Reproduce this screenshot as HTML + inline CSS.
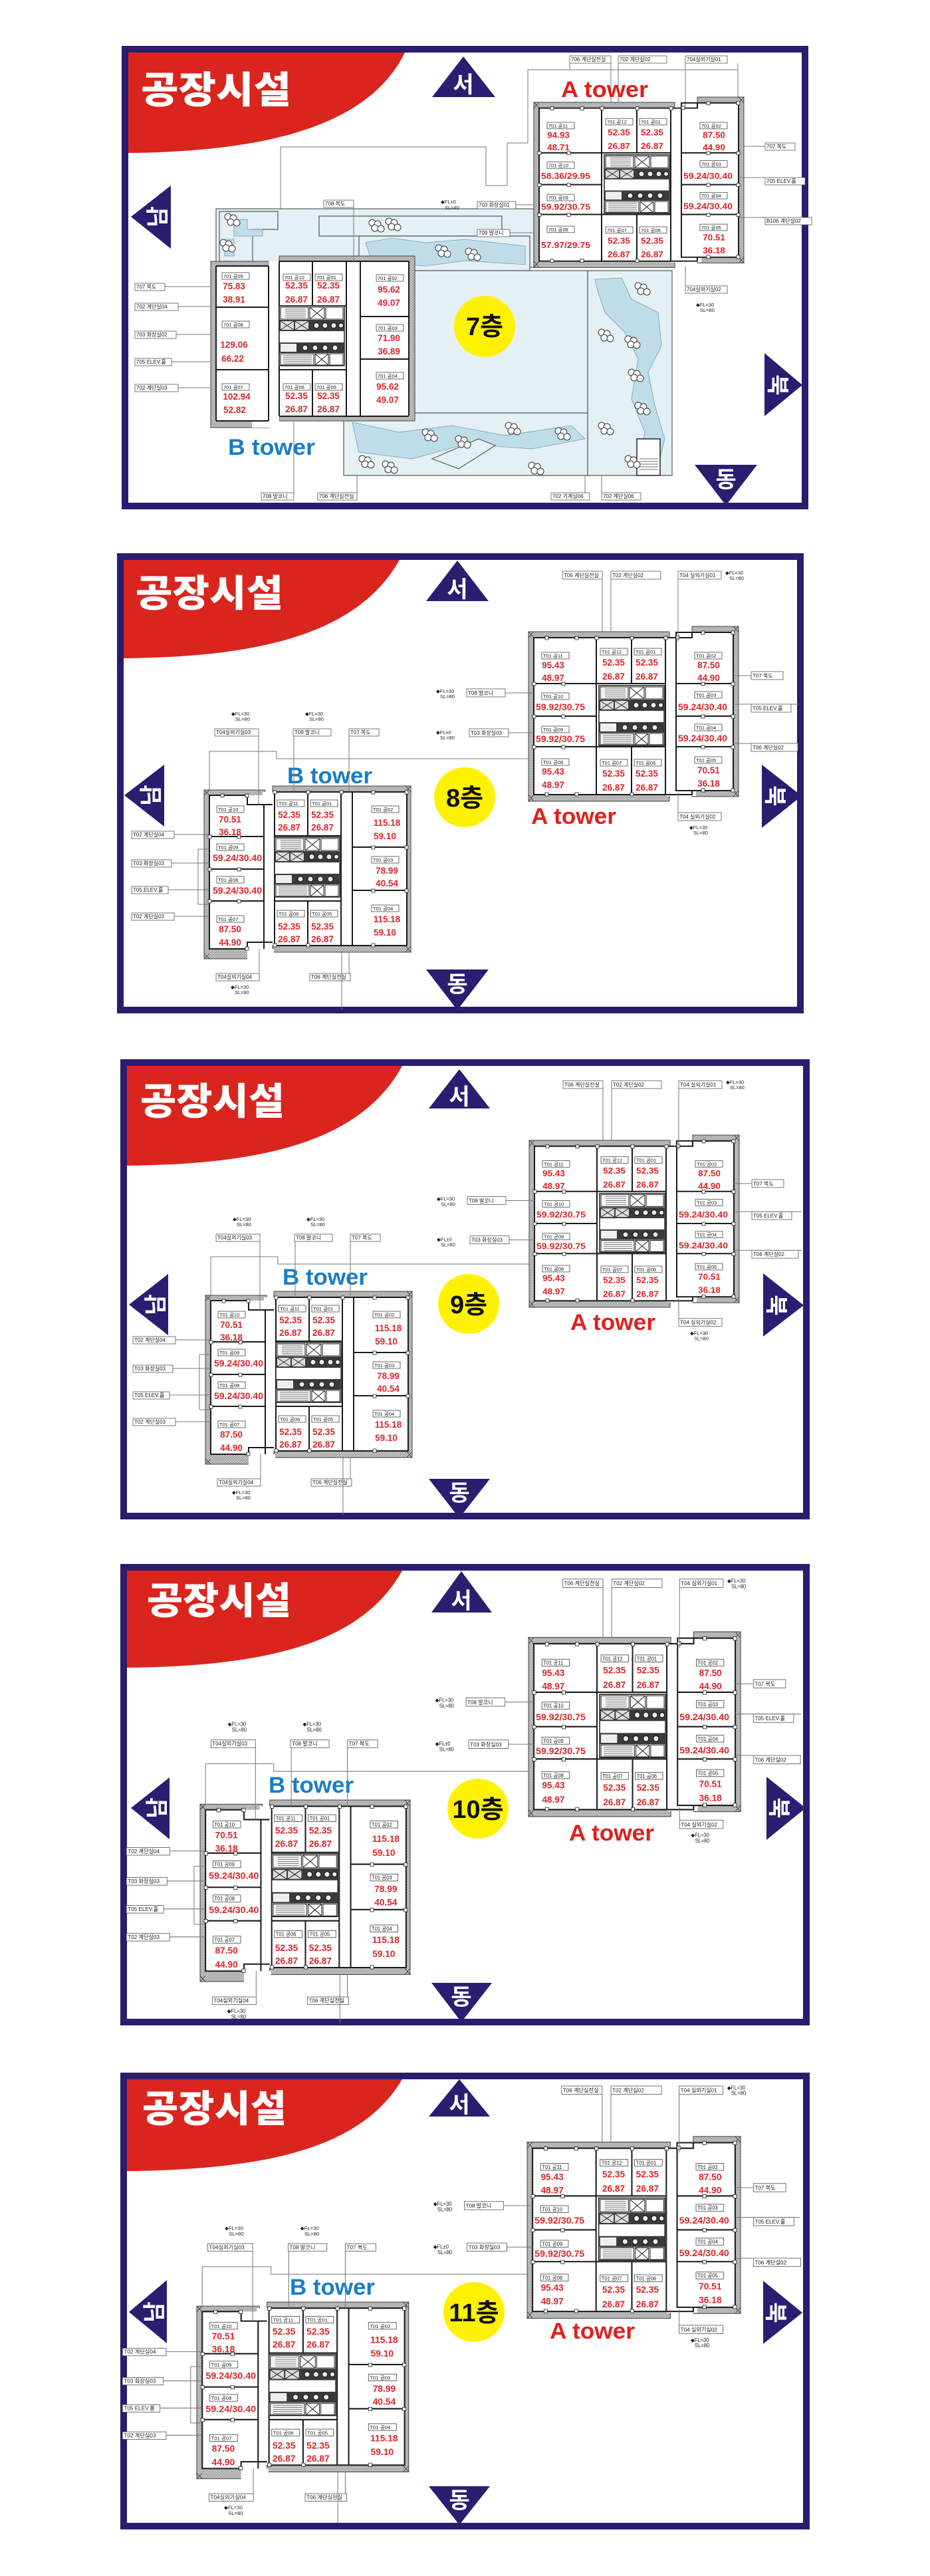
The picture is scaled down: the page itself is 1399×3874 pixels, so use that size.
<!DOCTYPE html>
<html><head><meta charset="utf-8">
<style>
html,body{margin:0;padding:0;background:#fff;}
svg{display:block}
.ff{font-family:"Liberation Sans","Noto Sans CJK KR",sans-serif}
.cb{fill:#fff;stroke:#555;stroke-width:.8}
.ct{font-family:"Liberation Sans","Noto Sans CJK KR",sans-serif;font-size:8px;fill:#222}
.fl{font-family:"Liberation Sans",sans-serif;font-size:7.5px;fill:#222}
.rl{fill:#fff;stroke:#444;stroke-width:.8}
.rt{font-family:"Liberation Sans","Noto Sans CJK KR",sans-serif;font-size:7.5px;fill:#222}
.n{font-family:"Liberation Sans",sans-serif;font-weight:bold;font-size:13.5px;fill:#d8262b;text-anchor:middle}
.w{stroke:#1a1a1a;stroke-width:2;fill:none}
.l{stroke:#777;stroke-width:1;fill:none}
.tri{fill:#2b1d70}
.dir{font-family:"Liberation Sans","Noto Sans CJK KR",sans-serif;font-weight:bold;font-size:34px;fill:#fff;text-anchor:middle}
.tt{font-family:"Noto Sans CJK KR","Liberation Sans",sans-serif;font-weight:900;font-size:56px;fill:#fff}
.fn{font-family:"Liberation Sans","Noto Sans CJK KR",sans-serif;font-weight:bold;font-size:38px;fill:#111;text-anchor:middle}
.at{font-family:"Liberation Sans",sans-serif;font-weight:bold;font-size:34px;fill:#e0201c}
.bt{font-family:"Liberation Sans",sans-serif;font-weight:bold;font-size:34px;fill:#1b7cc4}
.cs{fill:#fff;stroke:#222;stroke-width:.8}
.g{fill:#e4f0f4;stroke:#555;stroke-width:1.2}
.gw{fill:#bfdde9;stroke:#6a9db0;stroke-width:.8}
.tiny{font-family:"Liberation Sans",sans-serif;font-size:5px;fill:#333}
</style></head>
<body>
<svg xmlns="http://www.w3.org/2000/svg" width="1399" height="3874" viewBox="0 0 1399 3874">
<defs>
<pattern id="h" width="4" height="4" patternUnits="userSpaceOnUse"><rect width="4" height="4" fill="#c4c4c4"/><path d="M0,4L4,0" stroke="#8a8a8a" stroke-width=".8"/></pattern>
<g id="tr"><circle cx="0" cy="0" r="5" fill="#fff" stroke="#333"/><circle cx="8" cy="2" r="5" fill="#fff" stroke="#333"/><circle cx="4" cy="8" r="5" fill="#fff" stroke="#333"/><circle cx="13" cy="9" r="5" fill="#fff" stroke="#333"/></g>
<g id="acore">
<rect x="106" y="89" width="98" height="90" fill="#fff" stroke="#222" stroke-width="1.5"/>
<rect x="108" y="91" width="42" height="18" fill="#f3f3f3" stroke="#222"/>
<path d="M115,94H146M115,97H146M115,100H146M115,103H146M115,106H146" stroke="#555" stroke-width=".7"/>
<rect x="152" y="91" width="22" height="18" fill="#fff" stroke="#222"/><path d="M152,91L174,109M174,91L152,109" stroke="#222"/>
<rect x="176" y="91" width="26" height="18" fill="#fff" stroke="#222"/>
<rect x="106" y="110" width="98" height="17" fill="#3a3a3a"/>
<rect x="108" y="112" width="20" height="13" fill="#ddd"/><path d="M108,112L128,125M128,112L108,125" stroke="#222"/>
<rect x="130" y="112" width="20" height="13" fill="#ddd"/><path d="M130,112L150,125M150,112L130,125" stroke="#222"/>
<circle cx="162" cy="118.5" r="4" fill="#eee" stroke="#111"/><circle cx="175" cy="118.5" r="4" fill="#eee" stroke="#111"/><circle cx="188" cy="118.5" r="4" fill="#eee" stroke="#111"/><circle cx="199" cy="118.5" r="3.5" fill="#eee" stroke="#111"/>
<rect x="106" y="144" width="98" height="16" fill="#3a3a3a"/>
<rect x="108" y="146" width="24" height="12" fill="#eee"/>
<circle cx="145" cy="152" r="4" fill="#eee" stroke="#111"/><circle cx="160" cy="152" r="4" fill="#eee" stroke="#111"/><circle cx="175" cy="152" r="4" fill="#eee" stroke="#111"/><circle cx="190" cy="152" r="4" fill="#eee" stroke="#111"/>
<rect x="108" y="161" width="50" height="17" fill="#f3f3f3" stroke="#222"/>
<path d="M112,164H155M112,167H155M112,170H155M112,173H155M112,176H155" stroke="#555" stroke-width=".7"/>
<rect x="160" y="161" width="20" height="17" fill="#fff" stroke="#222"/><path d="M160,161L180,178M180,161L160,178" stroke="#222"/>
<rect x="182" y="161" width="20" height="17" fill="#fff" stroke="#222"/>
</g>
<g id="awall">
<rect x="0" y="8" width="212" height="255" fill="url(#h)" stroke="#444"/>
<rect x="246" y="0" width="70" height="256" fill="url(#h)" stroke="#444"/>
<rect x="8" y="17" width="204" height="236" fill="#fff"/>
<rect x="206" y="17" width="46" height="238" fill="#fff"/>
<rect x="246" y="9" width="62" height="238" fill="#fff"/>
<path class="w" d="M8,17H206V253H8ZM102,17V253M8,86H102M8,135H102M8,181H102M102,86H206M102,181H206M155,17V86M155,181V253M222,9H308V247H222ZM222,86H308M222,135H308M222,181H308M206,17H246V9M206,253H246V247"/>
<path d="M0,8L8,17M8,8L0,17M0,253L8,263M8,253L0,263M308,0L316,9M316,0L308,9M308,247L316,256M316,247L308,256" stroke="#333" stroke-width=".8"/>
<g class="cs"><rect x="25" y="15" width="5" height="5"/><rect x="70" y="15" width="5" height="5"/><rect x="100" y="15" width="5" height="5"/><rect x="153" y="15" width="5" height="5"/><rect x="204" y="15" width="5" height="5"/><rect x="6" y="84" width="5" height="5"/><rect x="50" y="84" width="5" height="5"/><rect x="6" y="133" width="5" height="5"/><rect x="50" y="133" width="5" height="5"/><rect x="6" y="179" width="5" height="5"/><rect x="50" y="179" width="5" height="5"/><rect x="25" y="250" width="5" height="5"/><rect x="70" y="250" width="5" height="5"/><rect x="153" y="250" width="5" height="5"/><rect x="260" y="7" width="5" height="5"/><rect x="305" y="7" width="5" height="5"/><rect x="260" y="84" width="5" height="5"/><rect x="305" y="84" width="5" height="5"/><rect x="260" y="133" width="5" height="5"/><rect x="305" y="133" width="5" height="5"/><rect x="260" y="179" width="5" height="5"/><rect x="305" y="179" width="5" height="5"/><rect x="260" y="244" width="5" height="5"/><rect x="305" y="244" width="5" height="5"/><rect x="222" y="14" width="5" height="5"/></g>
<use href="#acore"/>
</g>
<g id="bwall">
<rect x="0" y="6" width="92" height="254" fill="url(#h)" stroke="#444"/>
<rect x="103" y="0" width="208" height="250" fill="url(#h)" stroke="#444"/>
<rect x="8" y="14" width="90" height="231" fill="#fff"/>
<rect x="65" y="245" width="40" height="17" fill="#fff"/>
<rect x="88" y="9" width="20" height="231" fill="#fff"/>
<rect x="106" y="9" width="199" height="231" fill="#fff"/>
<path class="w" d="M8,14H65V28H103M8,14V245H65M90,28V245M8,76H90M8,125H90M8,173H90M65,245V235H103M106,9H305V240H106ZM156,9V75M156,173V240M106,75H206M106,173H206M206,9V240M223,9V240M223,92H305M223,157H305"/>
<path d="M0,6L8,14M8,6L0,14M0,252L8,260M8,252L0,260M303,0L311,9M311,0L303,9M303,241L311,250M311,241L303,250" stroke="#333" stroke-width=".8"/>
<g class="cs"><rect x="25" y="12" width="5" height="5"/><rect x="62" y="12" width="5" height="5"/><rect x="104" y="7" width="5" height="5"/><rect x="154" y="7" width="5" height="5"/><rect x="204" y="7" width="5" height="5"/><rect x="252" y="7" width="5" height="5"/><rect x="302" y="7" width="5" height="5"/><rect x="6" y="74" width="5" height="5"/><rect x="50" y="74" width="5" height="5"/><rect x="6" y="123" width="5" height="5"/><rect x="50" y="123" width="5" height="5"/><rect x="6" y="171" width="5" height="5"/><rect x="50" y="171" width="5" height="5"/><rect x="252" y="90" width="5" height="5"/><rect x="302" y="90" width="5" height="5"/><rect x="252" y="155" width="5" height="5"/><rect x="302" y="155" width="5" height="5"/><rect x="104" y="237" width="5" height="5"/><rect x="154" y="237" width="5" height="5"/><rect x="252" y="237" width="5" height="5"/><rect x="62" y="242" width="5" height="5"/></g>
<g transform="translate(0,-12)"><use href="#acore"/></g>
</g>
</defs>

<!-- ================= PANEL 1 (7F) ================= -->
<g transform="translate(183,69)">
<rect x="5" y="5" width="1023" height="687" fill="#fff" stroke="#2b1c6e" stroke-width="10"/>
<path d="M10,10H426C372,121 217,159 10,161Z" fill="#d9251d"/>
<text class="tt" x="29" y="86" textLength="226" lengthAdjust="spacingAndGlyphs">공장시설</text>
<polygon class="tri" points="514,16 562,77 467,77"/><text class="dir" x="514" y="70">서</text>
<polygon class="tri" points="14,257 74,210 74,305"/><text class="dir" transform="translate(54,257) rotate(-90)" y="12">남</text>
<polygon class="tri" points="1024,510 967,462 967,557"/><text class="dir" transform="translate(987,510) rotate(90)" y="12">북</text>
<polygon class="tri" points="862,630 956,630 909,691"/><text class="dir" x="909" y="664">동</text>
</g>
<!-- 7F site outlines -->
<path class="l" stroke="#555" stroke-width="1.3" d="M422,317V221H731V279H763V215H794V105H1110V151"/>
<path class="l" d="M857,95V105M919,95V160M930,95V160M1031,95V160"/>
<rect class="g" x="325" y="314" width="478" height="88" fill="#f6f6f2"/>
<polygon class="g" points="330,318 418,318 418,345 380,345 380,393 330,393"/>
<polygon class="gw" points="352,330 372,330 372,345 395,345 395,355 352,355"/>
<polygon class="gw" points="338,360 352,360 352,385 338,385"/>
<rect class="g" x="480" y="325" width="275" height="30" fill="#f6f6f2"/>
<polygon class="g" points="540,355 797,355 797,407 540,407"/>
<polygon class="gw" points="550,365 590,358 640,365 700,360 790,370 790,398 700,392 640,400 560,395"/>
<polygon class="g" points="884,407 1011,407 1011,715 884,715"/>
<polygon class="gw" points="895,420 935,418 950,450 990,470 995,520 975,560 985,610 1000,660 990,700 960,705 970,650 950,600 960,540 940,500 910,470 900,440"/>
<polygon class="g" points="517,621 884,621 884,715 517,715"/>
<polygon class="gw" points="530,635 600,650 680,640 760,655 860,640 880,660 800,675 700,668 620,690 540,680"/>
<polygon class="g" points="650,690 720,660 745,670 690,705" fill="#f0f0f0"/>
<rect class="g" x="624" y="407" width="260" height="214" fill="#fff"/>
<rect x="958" y="660" width="35" height="55" fill="#fff" stroke="#222" stroke-width="1.5"/>
<path d="M962,690H990M962,694H990M962,698H990M962,702H990M962,706H990" stroke="#444" stroke-width=".8"/>
<use href="#tr" x="560" y="335"/><use href="#tr" x="585" y="333"/><use href="#tr" x="660" y="373"/><use href="#tr" x="705" y="378"/><use href="#tr" x="343" y="326"/><use href="#tr" x="336" y="365"/><use href="#tr" x="960" y="430"/><use href="#tr" x="905" y="500"/><use href="#tr" x="945" y="510"/><use href="#tr" x="950" y="560"/><use href="#tr" x="960" y="610"/><use href="#tr" x="905" y="640"/><use href="#tr" x="945" y="690"/><use href="#tr" x="640" y="650"/><use href="#tr" x="690" y="660"/><use href="#tr" x="765" y="640"/><use href="#tr" x="840" y="648"/><use href="#tr" x="545" y="690"/><use href="#tr" x="580" y="698"/><use href="#tr" x="800" y="700"/>
<!-- 7F B tower -->
<rect x="317" y="393" width="87" height="250" fill="url(#h)" stroke="#444"/>
<rect x="420" y="385" width="204" height="248" fill="url(#h)" stroke="#444"/>
<rect x="325" y="400" width="79" height="233" fill="#fff"/>
<rect x="379" y="633" width="41" height="10" fill="#fff"/>
<rect x="404" y="393" width="16" height="240" fill="#fff"/>
<rect x="420" y="393" width="195" height="233" fill="#fff"/>
<path class="w" d="M325,400H404M325,462H404M325,556H404M325,633H404M325,400V633M404,400V633M420,393H615M420,393V626M420,460H521M420,556H521M470,393V460M470,556V626M521,393V626M542,393V625M542,476H615M542,540H615M615,393V625M420,626H615"/>
<g transform="translate(314,371)"><use href="#acore"/></g>
<rect class="rl" x="334" y="410" width="41" height="10"/><text class="rt" x="336" y="418">701 공09</text>
<text class="n" x="352" y="435">75.83</text><text class="n" x="352" y="455">38.91</text>
<rect class="rl" x="334" y="483" width="41" height="10"/><text class="rt" x="336" y="491">701 공08</text>
<text class="n" x="352" y="523">129.06</text><text class="n" x="350" y="544">66.22</text>
<rect class="rl" x="334" y="577" width="41" height="10"/><text class="rt" x="336" y="585">701 공07</text>
<text class="n" x="356" y="601">102.94</text><text class="n" x="353" y="621">52.82</text>
<rect class="rl" x="426" y="412" width="41" height="10"/><text class="rt" x="428" y="420">701 공10</text>
<text class="n" x="446" y="434">52.35</text><text class="n" x="446" y="455">26.87</text>
<rect class="rl" x="474" y="412" width="41" height="10"/><text class="rt" x="476" y="420">701 공01</text>
<text class="n" x="494" y="434">52.35</text><text class="n" x="494" y="455">26.87</text>
<rect class="rl" x="426" y="577" width="41" height="10"/><text class="rt" x="428" y="585">701 공06</text>
<text class="n" x="446" y="600">52.35</text><text class="n" x="446" y="620">26.87</text>
<rect class="rl" x="474" y="577" width="41" height="10"/><text class="rt" x="476" y="585">701 공05</text>
<text class="n" x="494" y="600">52.35</text><text class="n" x="494" y="620">26.87</text>
<rect class="rl" x="566" y="413" width="41" height="10"/><text class="rt" x="568" y="421">701 공02</text>
<text class="n" x="585" y="440">95.62</text><text class="n" x="585" y="460">49.07</text>
<rect class="rl" x="566" y="488" width="41" height="10"/><text class="rt" x="568" y="496">701 공03</text>
<text class="n" x="585" y="513">71.90</text><text class="n" x="585" y="533">36.89</text>
<rect class="rl" x="566" y="560" width="41" height="10"/><text class="rt" x="568" y="568">701 공04</text>
<text class="n" x="583" y="586">95.62</text><text class="n" x="583" y="606">49.07</text>
<!-- 7F A tower -->
<g transform="translate(803,146) scale(1,0.975)">
<use href="#awall"/>
<rect class="rl" x="20" y="39" width="41" height="10"/><text class="rt" x="22" y="47">701 공11</text>
<text class="n" x="37" y="63">94.93</text><text class="n" x="37" y="82">48.71</text>
<rect class="rl" x="20" y="100" width="41" height="10"/><text class="rt" x="22" y="108">701 공10</text>
<text class="n" x="48" y="126" textLength="74" lengthAdjust="spacingAndGlyphs">58.36/29.95</text>
<rect class="rl" x="20" y="150" width="41" height="10"/><text class="rt" x="22" y="158">701 공09</text>
<text class="n" x="48" y="174" textLength="74" lengthAdjust="spacingAndGlyphs">59.92/30.75</text>
<rect class="rl" x="20" y="199" width="41" height="10"/><text class="rt" x="22" y="207">701 공08</text>
<text class="n" x="48" y="233" textLength="74" lengthAdjust="spacingAndGlyphs">57.97/29.75</text>
<rect class="rl" x="108" y="33" width="41" height="10"/><text class="rt" x="110" y="41">701 공12</text>
<text class="n" x="128" y="59">52.35</text><text class="n" x="128" y="80">26.87</text>
<rect class="rl" x="159" y="33" width="41" height="10"/><text class="rt" x="161" y="41">701 공01</text>
<text class="n" x="178" y="59">52.35</text><text class="n" x="178" y="80">26.87</text>
<rect class="rl" x="108" y="200" width="41" height="10"/><text class="rt" x="110" y="208">701 공07</text>
<text class="n" x="128" y="226">52.35</text><text class="n" x="128" y="247">26.87</text>
<rect class="rl" x="159" y="200" width="41" height="10"/><text class="rt" x="161" y="208">701 공06</text>
<text class="n" x="178" y="226">52.35</text><text class="n" x="178" y="247">26.87</text>
<rect class="rl" x="250" y="39" width="41" height="10"/><text class="rt" x="252" y="47">701 공02</text>
<text class="n" x="271" y="63">87.50</text><text class="n" x="271" y="82">44.90</text>
<rect class="rl" x="250" y="98" width="41" height="10"/><text class="rt" x="252" y="106">701 공03</text>
<text class="n" x="262" y="126" textLength="74" lengthAdjust="spacingAndGlyphs">59.24/30.40</text>
<rect class="rl" x="250" y="147" width="41" height="10"/><text class="rt" x="252" y="155">701 공04</text>
<text class="n" x="262" y="173" textLength="74" lengthAdjust="spacingAndGlyphs">59.24/30.40</text>
<rect class="rl" x="250" y="196" width="41" height="10"/><text class="rt" x="252" y="204">701 공05</text>
<text class="n" x="271" y="221">70.51</text><text class="n" x="271" y="241">36.18</text>
</g>
<!-- 7F callouts -->
<rect class="cb" x="857" y="84" width="62" height="11"/><text class="ct" x="859" y="92">706 계단실전실</text>
<rect class="cb" x="930" y="84" width="73" height="11"/><text class="ct" x="932" y="92">702  계단실02</text>
<rect class="cb" x="1031" y="84" width="63" height="11"/><text class="ct" x="1033" y="92">704실외기실01</text>
<path class="l" d="M1110,95V105"/>
<rect class="cb" x="1151" y="215" width="45" height="11"/><text class="ct" x="1153" y="223">707 복도</text>
<rect class="cb" x="1151" y="267" width="60" height="11"/><text class="ct" x="1153" y="275">705  ELEV.홀</text>
<rect class="cb" x="1151" y="327" width="70" height="11"/><text class="ct" x="1153" y="335">B106 계단실02</text>
<path class="l" d="M1119,220H1151M1111,267H1206M1111,327H1206"/>
<rect class="cb" x="1031" y="430" width="63" height="11"/><text class="ct" x="1033" y="438">704실외기실02</text>
<path class="l" d="M1031,400V430"/>
<text class="fl" x="1047" y="461">◆FL=30</text><text class="fl" x="1053" y="469">SL=80</text>
<rect class="cb" x="203" y="426" width="45" height="11"/><text class="ct" x="205" y="434">707 복도</text>
<rect class="cb" x="203" y="456" width="65" height="11"/><text class="ct" x="205" y="464">702 계단실04</text>
<rect class="cb" x="203" y="498" width="62" height="11"/><text class="ct" x="205" y="506">703 화장실02</text>
<rect class="cb" x="203" y="539" width="55" height="11"/><text class="ct" x="205" y="547">705 ELEV.홀</text>
<rect class="cb" x="203" y="578" width="65" height="11"/><text class="ct" x="205" y="586">702 계단실03</text>
<path class="l" d="M248,431H317M268,461H317M265,503H317M258,544H317M268,583H317"/>
<rect class="cb" x="487" y="301" width="45" height="11"/><text class="ct" x="489" y="309">708 복도</text>
<path class="l" d="M532,312V395"/>
<text class="fl" x="663" y="306">◆FL±0</text><text class="fl" x="669" y="315">SL=80</text>
<rect class="cb" x="718" y="303" width="58" height="11"/><text class="ct" x="720" y="311">703 화장실01</text>
<path class="l" d="M776,308H803"/>
<rect class="cb" x="718" y="345" width="49" height="11"/><text class="ct" x="720" y="353">709 발코니</text>
<path class="l" d="M767,350H803"/>
<rect class="cb" x="393" y="741" width="49" height="11"/><text class="ct" x="395" y="749">708 발코니</text>
<rect class="cb" x="478" y="741" width="59" height="11"/><text class="ct" x="480" y="749">706 계단실전실</text>
<rect class="cb" x="829" y="741" width="58" height="11"/><text class="ct" x="831" y="749">702 기계실06</text>
<rect class="cb" x="905" y="741" width="59" height="11"/><text class="ct" x="907" y="749">702 계단실06</text>
<path class="l" d="M442,741V633M537,741V715M880,741V715M905,741V715"/>
<ellipse cx="729" cy="491" rx="46" ry="46" fill="#fff200"/>
<text class="fn" x="729" y="504">7층</text>
<text class="at" x="844" y="146" textLength="131" lengthAdjust="spacingAndGlyphs">A tower</text>
<text class="bt" x="343" y="684" textLength="131" lengthAdjust="spacingAndGlyphs">B tower</text>

<!-- ================= PANEL 2 (8F) ================= -->
<g transform="translate(176,832)">
<rect x="5" y="5" width="1023" height="682" fill="#fff" stroke="#2b1c6e" stroke-width="10"/>
<path d="M10,10H425C364,118 224,156 10,158Z" fill="#d9251d"/>
<text class="tt" x="28" y="80" textLength="222" lengthAdjust="spacingAndGlyphs">공장시설</text>
<polygon class="tri" points="512,11 559,72 465,72"/><text class="dir" x="512" y="66">서</text>
<polygon class="tri" points="11,364 71,318 71,411"/><text class="dir" transform="translate(51,364) rotate(-90)" y="12">남</text>
<polygon class="tri" points="1030,365 970,318 970,413"/><text class="dir" transform="translate(990,365) rotate(90)" y="12">북</text>
<polygon class="tri" points="465,626 559,626 512,687"/><text class="dir" x="512" y="660">동</text>
<ellipse cx="523" cy="367" rx="46" ry="45" fill="#fff200"/><text class="fn" x="523" y="381">8층</text>
<text class="at" x="623" y="407" textLength="128" lengthAdjust="spacingAndGlyphs">A tower</text>
<text class="bt" x="256" y="346" textLength="128" lengthAdjust="spacingAndGlyphs">B tower</text>
<g transform="translate(619,110)">
<use href="#awall"/>
<rect class="rl" x="20" y="39" width="41" height="10"/><text class="rt" x="22" y="47">T01 공11</text>
<text class="n" x="37" y="63">95.43</text><text class="n" x="37" y="82">48.97</text>
<rect class="rl" x="20" y="100" width="41" height="10"/><text class="rt" x="22" y="108">T01 공10</text>
<text class="n" x="48" y="126" textLength="74" lengthAdjust="spacingAndGlyphs">59.92/30.75</text>
<rect class="rl" x="20" y="150" width="41" height="10"/><text class="rt" x="22" y="158">T01 공09</text>
<text class="n" x="48" y="174" textLength="74" lengthAdjust="spacingAndGlyphs">59.92/30.75</text>
<rect class="rl" x="20" y="199" width="41" height="10"/><text class="rt" x="22" y="207">T01 공08</text>
<text class="n" x="37" y="223">95.43</text><text class="n" x="37" y="243">48.97</text>
<rect class="rl" x="108" y="33" width="41" height="10"/><text class="rt" x="110" y="41">T01 공12</text>
<text class="n" x="128" y="59">52.35</text><text class="n" x="128" y="80">26.87</text>
<rect class="rl" x="159" y="33" width="41" height="10"/><text class="rt" x="161" y="41">T01 공01</text>
<text class="n" x="178" y="59">52.35</text><text class="n" x="178" y="80">26.87</text>
<rect class="rl" x="108" y="200" width="41" height="10"/><text class="rt" x="110" y="208">T01 공07</text>
<text class="n" x="128" y="226">52.35</text><text class="n" x="128" y="247">26.87</text>
<rect class="rl" x="159" y="200" width="41" height="10"/><text class="rt" x="161" y="208">T01 공06</text>
<text class="n" x="178" y="226">52.35</text><text class="n" x="178" y="247">26.87</text>
<rect class="rl" x="250" y="39" width="41" height="10"/><text class="rt" x="252" y="47">T01 공02</text>
<text class="n" x="271" y="63">87.50</text><text class="n" x="271" y="82">44.90</text>
<rect class="rl" x="250" y="98" width="41" height="10"/><text class="rt" x="252" y="106">T01 공03</text>
<text class="n" x="262" y="126" textLength="74" lengthAdjust="spacingAndGlyphs">59.24/30.40</text>
<rect class="rl" x="250" y="147" width="41" height="10"/><text class="rt" x="252" y="155">T01 공04</text>
<text class="n" x="262" y="173" textLength="74" lengthAdjust="spacingAndGlyphs">59.24/30.40</text>
<rect class="rl" x="250" y="196" width="41" height="10"/><text class="rt" x="252" y="204">T01 공05</text>
<text class="n" x="271" y="221">70.51</text><text class="n" x="271" y="241">36.18</text>
<rect class="cb" x="51" y="-83" width="60" height="12"/><text class="ct" x="53" y="-74">T06 계단실전실</text>
<rect class="cb" x="124" y="-83" width="75" height="12"/><text class="ct" x="126" y="-74">T02  계단실02</text>
<rect class="cb" x="225" y="-83" width="65" height="12"/><text class="ct" x="227" y="-74">T04 실외기실01</text>
<text class="fl" x="296" y="-78">◆FL=30</text><text class="fl" x="302" y="-70">SL=80</text>
<path class="l" d="M111,-71V9M124,-71V9M225,-71V23"/>
<rect class="cb" x="-93" y="94" width="58" height="12"/><text class="ct" x="-91" y="103">T08  발코니</text>
<text class="fl" x="-139" y="100">◆FL=30</text><text class="fl" x="-133" y="108">SL=80</text>
<rect class="cb" x="-89" y="154" width="59" height="12"/><text class="ct" x="-87" y="163">T03 화장실03</text>
<text class="fl" x="-139" y="162">◆FL±0</text><text class="fl" x="-133" y="170">SL=80</text>
<path class="l" d="M-35,100H8M-30,160H8"/>
<rect class="cb" x="335" y="68" width="48" height="12"/><text class="ct" x="337" y="77">T07  복도</text>
<rect class="cb" x="335" y="117" width="60" height="12"/><text class="ct" x="337" y="126">T05  ELEV.홀</text>
<rect class="cb" x="335" y="176" width="70" height="12"/><text class="ct" x="337" y="185">T06  계단실02</text>
<path class="l" d="M308,74H335M308,117H406M308,176H406"/>
<rect class="cb" x="225" y="280" width="65" height="12"/><text class="ct" x="227" y="289">T04 실외기실02</text>
<path class="l" d="M225,250V280"/>
<text class="fl" x="242" y="305">◆FL=30</text><text class="fl" x="248" y="313">SL=80</text>
</g>
<g transform="translate(131,350)">
<use href="#bwall"/>
<rect class="rl" x="19" y="30" width="41" height="10"/><text class="rt" x="21" y="38">T01 공10</text>
<text class="n" x="39" y="55">70.51</text><text class="n" x="39" y="74">36.18</text>
<rect class="rl" x="19" y="87" width="41" height="10"/><text class="rt" x="21" y="95">T01 공09</text>
<text class="n" x="50" y="113" textLength="74" lengthAdjust="spacingAndGlyphs">59.24/30.40</text>
<rect class="rl" x="19" y="136" width="41" height="10"/><text class="rt" x="21" y="144">T01 공08</text>
<text class="n" x="50" y="162" textLength="74" lengthAdjust="spacingAndGlyphs">59.24/30.40</text>
<rect class="rl" x="19" y="195" width="41" height="10"/><text class="rt" x="21" y="203">T01 공07</text>
<text class="n" x="39" y="220">87.50</text><text class="n" x="39" y="240">44.90</text>
<rect class="rl" x="110" y="21" width="41" height="10"/><text class="rt" x="112" y="29">T01 공11</text>
<text class="n" x="128" y="48">52.35</text><text class="n" x="128" y="67">26.87</text>
<rect class="rl" x="160" y="21" width="41" height="10"/><text class="rt" x="162" y="29">T01 공01</text>
<text class="n" x="178" y="48">52.35</text><text class="n" x="178" y="67">26.87</text>
<rect class="rl" x="110" y="187" width="41" height="10"/><text class="rt" x="112" y="195">T01 공06</text>
<text class="n" x="128" y="216">52.35</text><text class="n" x="128" y="235">26.87</text>
<rect class="rl" x="160" y="187" width="41" height="10"/><text class="rt" x="162" y="195">T01 공05</text>
<text class="n" x="178" y="216">52.35</text><text class="n" x="178" y="235">26.87</text>
<rect class="rl" x="252" y="30" width="41" height="10"/><text class="rt" x="254" y="38">T01 공02</text>
<text class="n" x="275" y="60">115.18</text><text class="n" x="272" y="80">59.10</text>
<rect class="rl" x="252" y="106" width="41" height="10"/><text class="rt" x="254" y="114">T01 공03</text>
<text class="n" x="275" y="132">78.99</text><text class="n" x="275" y="151">40.54</text>
<rect class="rl" x="252" y="179" width="41" height="10"/><text class="rt" x="254" y="187">T01 공04</text>
<text class="n" x="275" y="205">115.18</text><text class="n" x="272" y="225">59.10</text>
<rect class="cb" x="16" y="-86" width="66" height="11"/><text class="ct" x="18" y="-78">T04실외기실03</text>
<text class="fl" x="41" y="-106">◆FL=30</text><text class="fl" x="47" y="-98">SL=80</text>
<rect class="cb" x="134" y="-86" width="57" height="11"/><text class="ct" x="136" y="-78">T08  발코니</text>
<text class="fl" x="152" y="-106">◆FL=30</text><text class="fl" x="158" y="-98">SL=80</text>
<rect class="cb" x="218" y="-86" width="45" height="11"/><text class="ct" x="220" y="-78">T07  복도</text>
<path class="l" d="M82,-75V28M8,6V-52H109V-41H488M135,-75V9M218,-75V9"/>
<rect class="cb" x="-109" y="68" width="64" height="11"/><text class="ct" x="-107" y="76">T02  계단실04</text>
<rect class="cb" x="-109" y="111" width="60" height="11"/><text class="ct" x="-107" y="119">T03 화장실03</text>
<rect class="cb" x="-109" y="151" width="55" height="11"/><text class="ct" x="-107" y="159">T05 ELEV.홀</text>
<rect class="cb" x="-109" y="191" width="64" height="11"/><text class="ct" x="-107" y="199">T02  계단실03</text>
<path class="l" d="M-45,73H8M-49,116H8M-54,156H8M-45,196H8M-9,95V178M-9,95H8M-9,178H8"/>
<rect class="cb" x="18" y="282" width="65" height="11"/><text class="ct" x="20" y="290">T04실외기실04</text>
<text class="fl" x="40" y="305">◆FL=30</text><text class="fl" x="46" y="313">SL=80</text>
<rect class="cb" x="159" y="282" width="61" height="11"/><text class="ct" x="161" y="290">T06 계단실전실</text>
<path class="l" d="M83,245V282M218,250V282M207,250V336"/>
</g>
</g>

<!-- ================= PANEL 3 (9F) ================= -->
<g transform="translate(181,1593)">
<rect x="5" y="5" width="1027" height="682" fill="#fff" stroke="#2b1c6e" stroke-width="10"/>
<path d="M10,10H424C364,120 224,158 10,160Z" fill="#d9251d"/>
<text class="tt" x="30" y="83" textLength="217" lengthAdjust="spacingAndGlyphs">공장시설</text>
<polygon class="tri" points="510,15 556,74 464,74"/><text class="dir" x="510" y="68">서</text>
<polygon class="tri" points="13,369 72,323 72,415"/><text class="dir" transform="translate(53,369) rotate(-90)" y="12">남</text>
<polygon class="tri" points="1028,370 967,322 967,417"/><text class="dir" transform="translate(987,370) rotate(90)" y="12">북</text>
<polygon class="tri" points="464,631 556,631 510,690"/><text class="dir" x="510" y="664">동</text>
<ellipse cx="524" cy="368" rx="46" ry="45" fill="#fff200"/><text class="fn" x="524" y="382">9층</text>
<text class="at" x="677" y="407" textLength="128" lengthAdjust="spacingAndGlyphs">A tower</text>
<text class="bt" x="244" y="339" textLength="128" lengthAdjust="spacingAndGlyphs">B tower</text>
<g transform="translate(615,114) scale(1,0.985)">
<use href="#awall"/>
<rect class="rl" x="20" y="39" width="41" height="10"/><text class="rt" x="22" y="47">T01 공11</text>
<text class="n" x="37" y="63">95.43</text><text class="n" x="37" y="82">48.97</text>
<rect class="rl" x="20" y="100" width="41" height="10"/><text class="rt" x="22" y="108">T01 공10</text>
<text class="n" x="48" y="126" textLength="74" lengthAdjust="spacingAndGlyphs">59.92/30.75</text>
<rect class="rl" x="20" y="150" width="41" height="10"/><text class="rt" x="22" y="158">T01 공09</text>
<text class="n" x="48" y="174" textLength="74" lengthAdjust="spacingAndGlyphs">59.92/30.75</text>
<rect class="rl" x="20" y="199" width="41" height="10"/><text class="rt" x="22" y="207">T01 공08</text>
<text class="n" x="37" y="223">95.43</text><text class="n" x="37" y="243">48.97</text>
<rect class="rl" x="108" y="33" width="41" height="10"/><text class="rt" x="110" y="41">T01 공12</text>
<text class="n" x="128" y="59">52.35</text><text class="n" x="128" y="80">26.87</text>
<rect class="rl" x="159" y="33" width="41" height="10"/><text class="rt" x="161" y="41">T01 공01</text>
<text class="n" x="178" y="59">52.35</text><text class="n" x="178" y="80">26.87</text>
<rect class="rl" x="108" y="200" width="41" height="10"/><text class="rt" x="110" y="208">T01 공07</text>
<text class="n" x="128" y="226">52.35</text><text class="n" x="128" y="247">26.87</text>
<rect class="rl" x="159" y="200" width="41" height="10"/><text class="rt" x="161" y="208">T01 공06</text>
<text class="n" x="178" y="226">52.35</text><text class="n" x="178" y="247">26.87</text>
<rect class="rl" x="250" y="39" width="41" height="10"/><text class="rt" x="252" y="47">T01 공02</text>
<text class="n" x="271" y="63">87.50</text><text class="n" x="271" y="82">44.90</text>
<rect class="rl" x="250" y="98" width="41" height="10"/><text class="rt" x="252" y="106">T01 공03</text>
<text class="n" x="262" y="126" textLength="74" lengthAdjust="spacingAndGlyphs">59.24/30.40</text>
<rect class="rl" x="250" y="147" width="41" height="10"/><text class="rt" x="252" y="155">T01 공04</text>
<text class="n" x="262" y="173" textLength="74" lengthAdjust="spacingAndGlyphs">59.24/30.40</text>
<rect class="rl" x="250" y="196" width="41" height="10"/><text class="rt" x="252" y="204">T01 공05</text>
<text class="n" x="271" y="221">70.51</text><text class="n" x="271" y="241">36.18</text>
<rect class="cb" x="51" y="-83" width="60" height="12"/><text class="ct" x="53" y="-74">T06 계단실전실</text>
<rect class="cb" x="124" y="-83" width="75" height="12"/><text class="ct" x="126" y="-74">T02  계단실02</text>
<rect class="cb" x="225" y="-83" width="65" height="12"/><text class="ct" x="227" y="-74">T04 실외기실01</text>
<text class="fl" x="296" y="-78">◆FL=30</text><text class="fl" x="302" y="-70">SL=80</text>
<path class="l" d="M111,-71V9M124,-71V9M225,-71V23"/>
<rect class="cb" x="-93" y="94" width="58" height="12"/><text class="ct" x="-91" y="103">T08  발코니</text>
<text class="fl" x="-139" y="100">◆FL=30</text><text class="fl" x="-133" y="108">SL=80</text>
<rect class="cb" x="-89" y="154" width="59" height="12"/><text class="ct" x="-87" y="163">T03 화장실03</text>
<text class="fl" x="-139" y="162">◆FL±0</text><text class="fl" x="-133" y="170">SL=80</text>
<path class="l" d="M-35,100H8M-30,160H8"/>
<rect class="cb" x="335" y="68" width="48" height="12"/><text class="ct" x="337" y="77">T07  복도</text>
<rect class="cb" x="335" y="117" width="60" height="12"/><text class="ct" x="337" y="126">T05  ELEV.홀</text>
<rect class="cb" x="335" y="176" width="70" height="12"/><text class="ct" x="337" y="185">T06  계단실02</text>
<path class="l" d="M308,74H335M308,117H410M308,176H410"/>
<rect class="cb" x="225" y="280" width="65" height="12"/><text class="ct" x="227" y="289">T04 실외기실02</text>
<path class="l" d="M225,250V280"/>
<text class="fl" x="242" y="305">◆FL=30</text><text class="fl" x="248" y="313">SL=80</text>
</g>
<g transform="translate(128,349)">
<use href="#bwall"/>
<rect class="rl" x="19" y="30" width="41" height="10"/><text class="rt" x="21" y="38">T01 공10</text>
<text class="n" x="39" y="55">70.51</text><text class="n" x="39" y="74">36.18</text>
<rect class="rl" x="19" y="87" width="41" height="10"/><text class="rt" x="21" y="95">T01 공09</text>
<text class="n" x="50" y="113" textLength="74" lengthAdjust="spacingAndGlyphs">59.24/30.40</text>
<rect class="rl" x="19" y="136" width="41" height="10"/><text class="rt" x="21" y="144">T01 공08</text>
<text class="n" x="50" y="162" textLength="74" lengthAdjust="spacingAndGlyphs">59.24/30.40</text>
<rect class="rl" x="19" y="195" width="41" height="10"/><text class="rt" x="21" y="203">T01 공07</text>
<text class="n" x="39" y="220">87.50</text><text class="n" x="39" y="240">44.90</text>
<rect class="rl" x="110" y="21" width="41" height="10"/><text class="rt" x="112" y="29">T01 공11</text>
<text class="n" x="128" y="48">52.35</text><text class="n" x="128" y="67">26.87</text>
<rect class="rl" x="160" y="21" width="41" height="10"/><text class="rt" x="162" y="29">T01 공01</text>
<text class="n" x="178" y="48">52.35</text><text class="n" x="178" y="67">26.87</text>
<rect class="rl" x="110" y="187" width="41" height="10"/><text class="rt" x="112" y="195">T01 공06</text>
<text class="n" x="128" y="216">52.35</text><text class="n" x="128" y="235">26.87</text>
<rect class="rl" x="160" y="187" width="41" height="10"/><text class="rt" x="162" y="195">T01 공05</text>
<text class="n" x="178" y="216">52.35</text><text class="n" x="178" y="235">26.87</text>
<rect class="rl" x="252" y="30" width="41" height="10"/><text class="rt" x="254" y="38">T01 공02</text>
<text class="n" x="275" y="60">115.18</text><text class="n" x="272" y="80">59.10</text>
<rect class="rl" x="252" y="106" width="41" height="10"/><text class="rt" x="254" y="114">T01 공03</text>
<text class="n" x="275" y="132">78.99</text><text class="n" x="275" y="151">40.54</text>
<rect class="rl" x="252" y="179" width="41" height="10"/><text class="rt" x="254" y="187">T01 공04</text>
<text class="n" x="275" y="205">115.18</text><text class="n" x="272" y="225">59.10</text>
<rect class="cb" x="16" y="-86" width="66" height="11"/><text class="ct" x="18" y="-78">T04실외기실03</text>
<text class="fl" x="41" y="-106">◆FL=30</text><text class="fl" x="47" y="-98">SL=80</text>
<rect class="cb" x="134" y="-86" width="57" height="11"/><text class="ct" x="136" y="-78">T08  발코니</text>
<text class="fl" x="152" y="-106">◆FL=30</text><text class="fl" x="158" y="-98">SL=80</text>
<rect class="cb" x="218" y="-86" width="45" height="11"/><text class="ct" x="220" y="-78">T07  복도</text>
<path class="l" d="M82,-75V28M8,6V-52H109V-41H487M135,-75V9M218,-75V9"/>
<rect class="cb" x="-109" y="68" width="64" height="11"/><text class="ct" x="-107" y="76">T02  계단실04</text>
<rect class="cb" x="-109" y="111" width="60" height="11"/><text class="ct" x="-107" y="119">T03 화장실03</text>
<rect class="cb" x="-109" y="151" width="55" height="11"/><text class="ct" x="-107" y="159">T05 ELEV.홀</text>
<rect class="cb" x="-109" y="191" width="64" height="11"/><text class="ct" x="-107" y="199">T02  계단실03</text>
<path class="l" d="M-45,73H8M-49,116H8M-54,156H8M-45,196H8M-9,95V178M-9,95H8M-9,178H8"/>
<rect class="cb" x="18" y="282" width="65" height="11"/><text class="ct" x="20" y="290">T04실외기실04</text>
<text class="fl" x="40" y="305">◆FL=30</text><text class="fl" x="46" y="313">SL=80</text>
<rect class="cb" x="159" y="282" width="61" height="11"/><text class="ct" x="161" y="290">T06 계단실전실</text>
<path class="l" d="M83,245V282M218,250V282M207,250V336"/>
</g>
</g>

<!-- ================= PANEL 4 (10F) ================= -->
<g transform="translate(181,2352)">
<rect x="5" y="5" width="1027" height="684" fill="#fff" stroke="#2b1c6e" stroke-width="10"/>
<path d="M10,10H424C364,118 224,154 10,156Z" fill="#d9251d"/>
<text class="tt" x="40" y="75" textLength="217" lengthAdjust="spacingAndGlyphs">공장시설</text>
<polygon class="tri" points="513,11 559,73 468,73"/><text class="dir" x="513" y="67">서</text>
<polygon class="tri" points="16,367 74,321 74,414"/><text class="dir" transform="translate(55,367) rotate(-90)" y="12">남</text>
<polygon class="tri" points="1031,367 972,320 972,415"/><text class="dir" transform="translate(991,367) rotate(90)" y="12">북</text>
<polygon class="tri" points="468,630 559,630 513,689"/><text class="dir" x="513" y="663">동</text>
<ellipse cx="538" cy="368" rx="46" ry="45" fill="#fff200"/><text class="fn" x="538" y="382">10층</text>
<text class="at" x="675" y="416" textLength="128" lengthAdjust="spacingAndGlyphs">A tower</text>
<text class="bt" x="223" y="344" textLength="128" lengthAdjust="spacingAndGlyphs">B tower</text>
<g transform="translate(614,102) scale(1.01,1.057)">
<use href="#awall"/>
<rect class="rl" x="20" y="39" width="41" height="10"/><text class="rt" x="22" y="47">T01 공11</text>
<text class="n" x="37" y="63">95.43</text><text class="n" x="37" y="82">48.97</text>
<rect class="rl" x="20" y="100" width="41" height="10"/><text class="rt" x="22" y="108">T01 공10</text>
<text class="n" x="48" y="126" textLength="74" lengthAdjust="spacingAndGlyphs">59.92/30.75</text>
<rect class="rl" x="20" y="150" width="41" height="10"/><text class="rt" x="22" y="158">T01 공09</text>
<text class="n" x="48" y="174" textLength="74" lengthAdjust="spacingAndGlyphs">59.92/30.75</text>
<rect class="rl" x="20" y="199" width="41" height="10"/><text class="rt" x="22" y="207">T01 공08</text>
<text class="n" x="37" y="223">95.43</text><text class="n" x="37" y="243">48.97</text>
<rect class="rl" x="108" y="33" width="41" height="10"/><text class="rt" x="110" y="41">T01 공12</text>
<text class="n" x="128" y="59">52.35</text><text class="n" x="128" y="80">26.87</text>
<rect class="rl" x="159" y="33" width="41" height="10"/><text class="rt" x="161" y="41">T01 공01</text>
<text class="n" x="178" y="59">52.35</text><text class="n" x="178" y="80">26.87</text>
<rect class="rl" x="108" y="200" width="41" height="10"/><text class="rt" x="110" y="208">T01 공07</text>
<text class="n" x="128" y="226">52.35</text><text class="n" x="128" y="247">26.87</text>
<rect class="rl" x="159" y="200" width="41" height="10"/><text class="rt" x="161" y="208">T01 공06</text>
<text class="n" x="178" y="226">52.35</text><text class="n" x="178" y="247">26.87</text>
<rect class="rl" x="250" y="39" width="41" height="10"/><text class="rt" x="252" y="47">T01 공02</text>
<text class="n" x="271" y="63">87.50</text><text class="n" x="271" y="82">44.90</text>
<rect class="rl" x="250" y="98" width="41" height="10"/><text class="rt" x="252" y="106">T01 공03</text>
<text class="n" x="262" y="126" textLength="74" lengthAdjust="spacingAndGlyphs">59.24/30.40</text>
<rect class="rl" x="250" y="147" width="41" height="10"/><text class="rt" x="252" y="155">T01 공04</text>
<text class="n" x="262" y="173" textLength="74" lengthAdjust="spacingAndGlyphs">59.24/30.40</text>
<rect class="rl" x="250" y="196" width="41" height="10"/><text class="rt" x="252" y="204">T01 공05</text>
<text class="n" x="271" y="221">70.51</text><text class="n" x="271" y="241">36.18</text>
<rect class="cb" x="51" y="-75" width="60" height="12"/><text class="ct" x="53" y="-66">T06 계단실전실</text>
<rect class="cb" x="124" y="-75" width="75" height="12"/><text class="ct" x="126" y="-66">T02  계단실02</text>
<rect class="cb" x="225" y="-75" width="65" height="12"/><text class="ct" x="227" y="-66">T04 실외기실01</text>
<text class="fl" x="296" y="-70">◆FL=30</text><text class="fl" x="302" y="-62">SL=80</text>
<path class="l" d="M111,-63V9M124,-63V9M225,-63V23"/>
<rect class="cb" x="-93" y="94" width="58" height="12"/><text class="ct" x="-91" y="103">T08  발코니</text>
<text class="fl" x="-139" y="100">◆FL=30</text><text class="fl" x="-133" y="108">SL=80</text>
<rect class="cb" x="-89" y="154" width="59" height="12"/><text class="ct" x="-87" y="163">T03 화장실03</text>
<text class="fl" x="-139" y="162">◆FL±0</text><text class="fl" x="-133" y="170">SL=80</text>
<path class="l" d="M-35,100H8M-30,160H8"/>
<rect class="cb" x="335" y="68" width="48" height="12"/><text class="ct" x="337" y="77">T07  복도</text>
<rect class="cb" x="335" y="117" width="60" height="12"/><text class="ct" x="337" y="126">T05  ELEV.홀</text>
<rect class="cb" x="335" y="176" width="70" height="12"/><text class="ct" x="337" y="185">T06  계단실02</text>
<path class="l" d="M308,74H335M308,117H406M308,176H406"/>
<rect class="cb" x="225" y="268" width="65" height="12"/><text class="ct" x="227" y="277">T04 실외기실02</text>
<path class="l" d="M225,250V268"/>
<text class="fl" x="242" y="292">◆FL=30</text><text class="fl" x="248" y="300">SL=80</text>
</g>
<g transform="translate(120,355) scale(1.016,1.05)">
<use href="#bwall"/>
<rect class="rl" x="19" y="30" width="41" height="10"/><text class="rt" x="21" y="38">T01 공10</text>
<text class="n" x="39" y="55">70.51</text><text class="n" x="39" y="74">36.18</text>
<rect class="rl" x="19" y="87" width="41" height="10"/><text class="rt" x="21" y="95">T01 공09</text>
<text class="n" x="50" y="113" textLength="74" lengthAdjust="spacingAndGlyphs">59.24/30.40</text>
<rect class="rl" x="19" y="136" width="41" height="10"/><text class="rt" x="21" y="144">T01 공08</text>
<text class="n" x="50" y="162" textLength="74" lengthAdjust="spacingAndGlyphs">59.24/30.40</text>
<rect class="rl" x="19" y="195" width="41" height="10"/><text class="rt" x="21" y="203">T01 공07</text>
<text class="n" x="39" y="220">87.50</text><text class="n" x="39" y="240">44.90</text>
<rect class="rl" x="110" y="21" width="41" height="10"/><text class="rt" x="112" y="29">T01 공11</text>
<text class="n" x="128" y="48">52.35</text><text class="n" x="128" y="67">26.87</text>
<rect class="rl" x="160" y="21" width="41" height="10"/><text class="rt" x="162" y="29">T01 공01</text>
<text class="n" x="178" y="48">52.35</text><text class="n" x="178" y="67">26.87</text>
<rect class="rl" x="110" y="187" width="41" height="10"/><text class="rt" x="112" y="195">T01 공06</text>
<text class="n" x="128" y="216">52.35</text><text class="n" x="128" y="235">26.87</text>
<rect class="rl" x="160" y="187" width="41" height="10"/><text class="rt" x="162" y="195">T01 공05</text>
<text class="n" x="178" y="216">52.35</text><text class="n" x="178" y="235">26.87</text>
<rect class="rl" x="252" y="30" width="41" height="10"/><text class="rt" x="254" y="38">T01 공02</text>
<text class="n" x="275" y="60">115.18</text><text class="n" x="272" y="80">59.10</text>
<rect class="rl" x="252" y="106" width="41" height="10"/><text class="rt" x="254" y="114">T01 공03</text>
<text class="n" x="275" y="132">78.99</text><text class="n" x="275" y="151">40.54</text>
<rect class="rl" x="252" y="179" width="41" height="10"/><text class="rt" x="254" y="187">T01 공04</text>
<text class="n" x="275" y="205">115.18</text><text class="n" x="272" y="225">59.10</text>
<rect class="cb" x="16" y="-86" width="66" height="11"/><text class="ct" x="18" y="-78">T04실외기실03</text>
<text class="fl" x="41" y="-106">◆FL=30</text><text class="fl" x="47" y="-98">SL=80</text>
<rect class="cb" x="134" y="-86" width="57" height="11"/><text class="ct" x="136" y="-78">T08  발코니</text>
<text class="fl" x="152" y="-106">◆FL=30</text><text class="fl" x="158" y="-98">SL=80</text>
<rect class="cb" x="218" y="-86" width="45" height="11"/><text class="ct" x="220" y="-78">T07  복도</text>
<path class="l" d="M82,-75V28M8,6V-52H109V-41H487M135,-75V9M218,-75V9"/>
<rect class="cb" x="-109" y="68" width="64" height="11"/><text class="ct" x="-107" y="76">T02  계단실04</text>
<rect class="cb" x="-109" y="111" width="60" height="11"/><text class="ct" x="-107" y="119">T03 화장실03</text>
<rect class="cb" x="-109" y="151" width="55" height="11"/><text class="ct" x="-107" y="159">T05 ELEV.홀</text>
<rect class="cb" x="-109" y="191" width="64" height="11"/><text class="ct" x="-107" y="199">T02  계단실03</text>
<path class="l" d="M-45,73H8M-49,116H8M-54,156H8M-45,196H8M-9,95V178M-9,95H8M-9,178H8"/>
<rect class="cb" x="18" y="282" width="65" height="11"/><text class="ct" x="20" y="290">T04실외기실04</text>
<text class="fl" x="40" y="305">◆FL=30</text><text class="fl" x="46" y="313">SL=80</text>
<rect class="cb" x="159" y="282" width="61" height="11"/><text class="ct" x="161" y="290">T06 계단실전실</text>
<path class="l" d="M83,245V282M218,250V282M207,250V320"/>
</g>
</g>

<!-- ================= PANEL 5 (11F) ================= -->
<g transform="translate(181,3117)">
<rect x="5" y="5" width="1027" height="677" fill="#fff" stroke="#2b1c6e" stroke-width="10"/>
<path d="M10,10H424C364,112 224,146 10,148Z" fill="#d9251d"/>
<text class="tt" x="33" y="74" textLength="217" lengthAdjust="spacingAndGlyphs">공장시설</text>
<polygon class="tri" points="510,10 556,66 464,66"/><text class="dir" x="510" y="60">서</text>
<polygon class="tri" points="13,360 70,312 70,407"/><text class="dir" transform="translate(51,360) rotate(-90)" y="12">남</text>
<polygon class="tri" points="1026,361 967,313 967,408"/><text class="dir" transform="translate(986,361) rotate(90)" y="12">북</text>
<polygon class="tri" points="464,622 556,622 510,680"/><text class="dir" x="510" y="655">동</text>
<ellipse cx="532" cy="360" rx="46" ry="45" fill="#fff200"/><text class="fn" x="532" y="374">11층</text>
<text class="at" x="646" y="400" textLength="128" lengthAdjust="spacingAndGlyphs">A tower</text>
<text class="bt" x="255" y="334" textLength="128" lengthAdjust="spacingAndGlyphs">B tower</text>
<g transform="translate(612,96) scale(1.016,1.04)">
<use href="#awall"/>
<rect class="rl" x="20" y="39" width="41" height="10"/><text class="rt" x="22" y="47">T01 공11</text>
<text class="n" x="37" y="63">95.43</text><text class="n" x="37" y="82">48.97</text>
<rect class="rl" x="20" y="100" width="41" height="10"/><text class="rt" x="22" y="108">T01 공10</text>
<text class="n" x="48" y="126" textLength="74" lengthAdjust="spacingAndGlyphs">59.92/30.75</text>
<rect class="rl" x="20" y="150" width="41" height="10"/><text class="rt" x="22" y="158">T01 공09</text>
<text class="n" x="48" y="174" textLength="74" lengthAdjust="spacingAndGlyphs">59.92/30.75</text>
<rect class="rl" x="20" y="199" width="41" height="10"/><text class="rt" x="22" y="207">T01 공08</text>
<text class="n" x="37" y="223">95.43</text><text class="n" x="37" y="243">48.97</text>
<rect class="rl" x="108" y="33" width="41" height="10"/><text class="rt" x="110" y="41">T01 공12</text>
<text class="n" x="128" y="59">52.35</text><text class="n" x="128" y="80">26.87</text>
<rect class="rl" x="159" y="33" width="41" height="10"/><text class="rt" x="161" y="41">T01 공01</text>
<text class="n" x="178" y="59">52.35</text><text class="n" x="178" y="80">26.87</text>
<rect class="rl" x="108" y="200" width="41" height="10"/><text class="rt" x="110" y="208">T01 공07</text>
<text class="n" x="128" y="226">52.35</text><text class="n" x="128" y="247">26.87</text>
<rect class="rl" x="159" y="200" width="41" height="10"/><text class="rt" x="161" y="208">T01 공06</text>
<text class="n" x="178" y="226">52.35</text><text class="n" x="178" y="247">26.87</text>
<rect class="rl" x="250" y="39" width="41" height="10"/><text class="rt" x="252" y="47">T01 공02</text>
<text class="n" x="271" y="63">87.50</text><text class="n" x="271" y="82">44.90</text>
<rect class="rl" x="250" y="98" width="41" height="10"/><text class="rt" x="252" y="106">T01 공03</text>
<text class="n" x="262" y="126" textLength="74" lengthAdjust="spacingAndGlyphs">59.24/30.40</text>
<rect class="rl" x="250" y="147" width="41" height="10"/><text class="rt" x="252" y="155">T01 공04</text>
<text class="n" x="262" y="173" textLength="74" lengthAdjust="spacingAndGlyphs">59.24/30.40</text>
<rect class="rl" x="250" y="196" width="41" height="10"/><text class="rt" x="252" y="204">T01 공05</text>
<text class="n" x="271" y="221">70.51</text><text class="n" x="271" y="241">36.18</text>
<rect class="cb" x="51" y="-73" width="60" height="12"/><text class="ct" x="53" y="-64">T06 계단실전실</text>
<rect class="cb" x="124" y="-73" width="75" height="12"/><text class="ct" x="126" y="-64">T02  계단실02</text>
<rect class="cb" x="225" y="-73" width="65" height="12"/><text class="ct" x="227" y="-64">T04 실외기실01</text>
<text class="fl" x="296" y="-68">◆FL=30</text><text class="fl" x="302" y="-60">SL=80</text>
<path class="l" d="M111,-61V9M124,-61V9M225,-61V23"/>
<rect class="cb" x="-93" y="94" width="58" height="12"/><text class="ct" x="-91" y="103">T08  발코니</text>
<text class="fl" x="-139" y="100">◆FL=30</text><text class="fl" x="-133" y="108">SL=80</text>
<rect class="cb" x="-89" y="154" width="59" height="12"/><text class="ct" x="-87" y="163">T03 화장실03</text>
<text class="fl" x="-139" y="162">◆FL±0</text><text class="fl" x="-133" y="170">SL=80</text>
<path class="l" d="M-35,100H8M-30,160H8"/>
<rect class="cb" x="335" y="68" width="48" height="12"/><text class="ct" x="337" y="77">T07  복도</text>
<rect class="cb" x="335" y="117" width="60" height="12"/><text class="ct" x="337" y="126">T05  ELEV.홀</text>
<rect class="cb" x="335" y="176" width="70" height="12"/><text class="ct" x="337" y="185">T06  계단실02</text>
<path class="l" d="M308,74H335M308,117H404M308,176H404"/>
<rect class="cb" x="225" y="273" width="65" height="12"/><text class="ct" x="227" y="282">T04 실외기실02</text>
<path class="l" d="M225,250V273"/>
<text class="fl" x="242" y="297">◆FL=30</text><text class="fl" x="248" y="305">SL=80</text>
</g>
<g transform="translate(115,345) scale(1.025,1.022)">
<use href="#bwall"/>
<rect class="rl" x="19" y="30" width="41" height="10"/><text class="rt" x="21" y="38">T01 공10</text>
<text class="n" x="39" y="55">70.51</text><text class="n" x="39" y="74">36.18</text>
<rect class="rl" x="19" y="87" width="41" height="10"/><text class="rt" x="21" y="95">T01 공09</text>
<text class="n" x="50" y="113" textLength="74" lengthAdjust="spacingAndGlyphs">59.24/30.40</text>
<rect class="rl" x="19" y="136" width="41" height="10"/><text class="rt" x="21" y="144">T01 공08</text>
<text class="n" x="50" y="162" textLength="74" lengthAdjust="spacingAndGlyphs">59.24/30.40</text>
<rect class="rl" x="19" y="195" width="41" height="10"/><text class="rt" x="21" y="203">T01 공07</text>
<text class="n" x="39" y="220">87.50</text><text class="n" x="39" y="240">44.90</text>
<rect class="rl" x="110" y="21" width="41" height="10"/><text class="rt" x="112" y="29">T01 공11</text>
<text class="n" x="128" y="48">52.35</text><text class="n" x="128" y="67">26.87</text>
<rect class="rl" x="160" y="21" width="41" height="10"/><text class="rt" x="162" y="29">T01 공01</text>
<text class="n" x="178" y="48">52.35</text><text class="n" x="178" y="67">26.87</text>
<rect class="rl" x="110" y="187" width="41" height="10"/><text class="rt" x="112" y="195">T01 공06</text>
<text class="n" x="128" y="216">52.35</text><text class="n" x="128" y="235">26.87</text>
<rect class="rl" x="160" y="187" width="41" height="10"/><text class="rt" x="162" y="195">T01 공05</text>
<text class="n" x="178" y="216">52.35</text><text class="n" x="178" y="235">26.87</text>
<rect class="rl" x="252" y="30" width="41" height="10"/><text class="rt" x="254" y="38">T01 공02</text>
<text class="n" x="275" y="60">115.18</text><text class="n" x="272" y="80">59.10</text>
<rect class="rl" x="252" y="106" width="41" height="10"/><text class="rt" x="254" y="114">T01 공03</text>
<text class="n" x="275" y="132">78.99</text><text class="n" x="275" y="151">40.54</text>
<rect class="rl" x="252" y="179" width="41" height="10"/><text class="rt" x="254" y="187">T01 공04</text>
<text class="n" x="275" y="205">115.18</text><text class="n" x="272" y="225">59.10</text>
<rect class="cb" x="16" y="-86" width="66" height="11"/><text class="ct" x="18" y="-78">T04실외기실03</text>
<text class="fl" x="41" y="-106">◆FL=30</text><text class="fl" x="47" y="-98">SL=80</text>
<rect class="cb" x="134" y="-86" width="57" height="11"/><text class="ct" x="136" y="-78">T08  발코니</text>
<text class="fl" x="152" y="-106">◆FL=30</text><text class="fl" x="158" y="-98">SL=80</text>
<rect class="cb" x="218" y="-86" width="45" height="11"/><text class="ct" x="220" y="-78">T07  복도</text>
<path class="l" d="M82,-75V28M8,6V-52H109V-41H485M135,-75V9M218,-75V9"/>
<rect class="cb" x="-109" y="68" width="64" height="11"/><text class="ct" x="-107" y="76">T02  계단실04</text>
<rect class="cb" x="-109" y="111" width="60" height="11"/><text class="ct" x="-107" y="119">T03 화장실03</text>
<rect class="cb" x="-109" y="151" width="55" height="11"/><text class="ct" x="-107" y="159">T05 ELEV.홀</text>
<rect class="cb" x="-109" y="191" width="64" height="11"/><text class="ct" x="-107" y="199">T02  계단실03</text>
<path class="l" d="M-45,73H8M-49,116H8M-54,156H8M-45,196H8M-9,95V178M-9,95H8M-9,178H8"/>
<rect class="cb" x="18" y="282" width="65" height="11"/><text class="ct" x="20" y="290">T04실외기실04</text>
<text class="fl" x="40" y="305">◆FL=30</text><text class="fl" x="46" y="313">SL=80</text>
<rect class="cb" x="159" y="282" width="61" height="11"/><text class="ct" x="161" y="290">T06 계단실전실</text>
<path class="l" d="M83,245V282M218,250V282M207,250V325"/>
</g>
</g>
</svg>
</body></html>
